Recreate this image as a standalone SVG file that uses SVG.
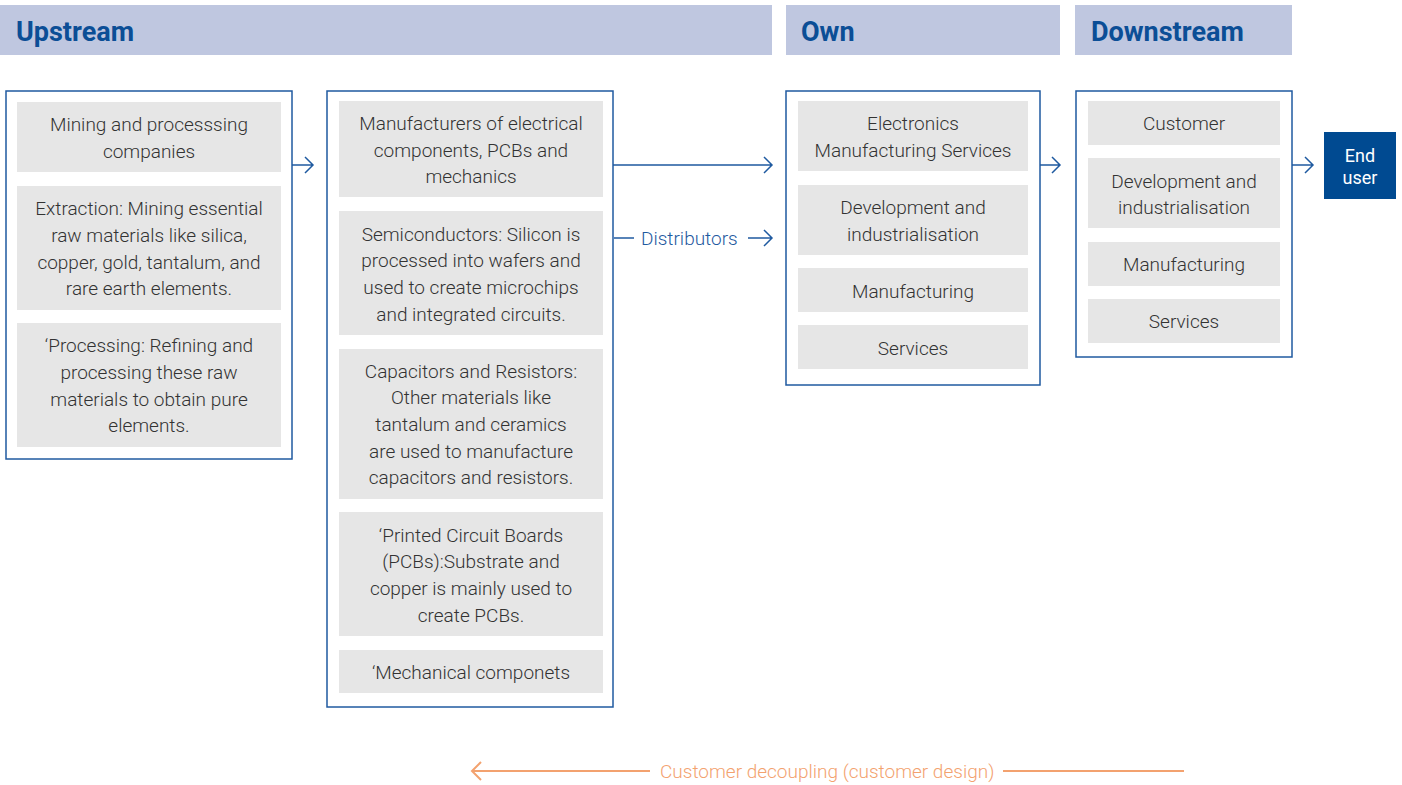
<svg xmlns="http://www.w3.org/2000/svg" width="1402" height="785" viewBox="0 0 1402 785">
  <defs>
    <style>
      .hdr { fill: #bfc7e0; }
      .hdr-t { font-family: Roboto, "Liberation Sans", sans-serif; font-weight: 700; font-size: 27px; fill: #0b4e96; }
      .frame { fill: #ffffff; stroke: #1f5aa0; stroke-width: 1.5; }
      .cell { fill: #e6e6e6; }
      .t { font-family: Roboto, "Liberation Sans", sans-serif; font-weight: 300; font-size: 19px; fill: #333333; text-anchor: middle; }
      .flow { fill: none; stroke: #1f5aa0; stroke-width: 1.5; }
      .flow-t { font-family: Roboto, "Liberation Sans", sans-serif; font-weight: 300; font-size: 19px; fill: #1f5aa0; }
      .dec { fill: none; stroke: #f3a26f; stroke-width: 2; }
      .dec-t { font-family: Roboto, "Liberation Sans", sans-serif; font-weight: 300; font-size: 19px; fill: #f3a26f; }
      .end { fill: #004a91; }
      .end-t { font-family: Roboto, "Liberation Sans", sans-serif; font-weight: 400; font-size: 18px; fill: #ffffff; text-anchor: middle; }
    </style>
  </defs>

  <!-- stage headers -->
  <g id="header-upstream">
    <rect class="hdr" x="0" y="5" width="772" height="50"/>
    <text class="hdr-t" x="16" y="41">Upstream</text>
  </g>
  <g id="header-own">
    <rect class="hdr" x="786" y="5" width="274" height="50"/>
    <text class="hdr-t" x="801" y="41">Own</text>
  </g>
  <g id="header-downstream">
    <rect class="hdr" x="1075" y="5" width="217" height="50"/>
    <text class="hdr-t" x="1091" y="41">Downstream</text>
  </g>

  <!-- raw materials -->
  <g id="mining">
    <rect class="frame" x="6" y="91" width="286" height="368"/>
    <rect class="cell" x="17" y="102" width="264" height="70"/>
    <text class="t"><tspan x="149" y="131">Mining and processsing</tspan><tspan x="149" y="158">companies</tspan></text>
    <rect class="cell" x="17" y="186" width="264" height="124"/>
    <text class="t"><tspan x="149" y="215">Extraction: Mining essential</tspan><tspan x="149" y="242">raw materials like silica,</tspan><tspan x="149" y="269">copper, gold, tantalum, and</tspan><tspan x="149" y="295">rare earth elements.</tspan></text>
    <rect class="cell" x="17" y="323" width="264" height="124"/>
    <text class="t"><tspan x="149" y="352">‘Processing: Refining and</tspan><tspan x="149" y="379">processing these raw</tspan><tspan x="149" y="406">materials to obtain pure</tspan><tspan x="149" y="432">elements.</tspan></text>
  </g>

  <!-- component manufacturers -->
  <g id="components">
    <rect class="frame" x="327" y="91" width="286" height="616"/>
    <rect class="cell" x="339" y="101" width="264" height="96"/>
    <text class="t"><tspan x="471" y="130">Manufacturers of electrical</tspan><tspan x="471" y="157">components, PCBs and</tspan><tspan x="471" y="183">mechanics</tspan></text>
    <rect class="cell" x="339" y="211" width="264" height="124"/>
    <text class="t"><tspan x="471" y="241">Semiconductors: Silicon is</tspan><tspan x="471" y="267">processed into wafers and</tspan><tspan x="471" y="294">used to create microchips</tspan><tspan x="471" y="321">and integrated circuits.</tspan></text>
    <rect class="cell" x="339" y="349" width="264" height="150"/>
    <text class="t"><tspan x="471" y="378">Capacitors and Resistors:</tspan><tspan x="471" y="404">Other materials like</tspan><tspan x="471" y="431">tantalum and ceramics</tspan><tspan x="471" y="458">are used to manufacture</tspan><tspan x="471" y="484">capacitors and resistors.</tspan></text>
    <rect class="cell" x="339" y="512" width="264" height="124"/>
    <text class="t"><tspan x="471" y="542">‘Printed Circuit Boards</tspan><tspan x="471" y="568">(PCBs):Substrate and</tspan><tspan x="471" y="595">copper is mainly used to</tspan><tspan x="471" y="622">create PCBs.</tspan></text>
    <rect class="cell" x="339" y="650" width="264" height="43"/>
    <text class="t" x="471" y="679">‘Mechanical componets</text>
  </g>

  <!-- own stage -->
  <g id="own">
    <rect class="frame" x="786" y="91" width="254" height="294"/>
    <rect class="cell" x="798" y="101" width="230" height="70"/>
    <text class="t"><tspan x="913" y="130">Electronics</tspan><tspan x="913" y="157">Manufacturing Services</tspan></text>
    <rect class="cell" x="798" y="185" width="230" height="70"/>
    <text class="t"><tspan x="913" y="214">Development and</tspan><tspan x="913" y="241">industrialisation</tspan></text>
    <rect class="cell" x="798" y="268" width="230" height="44"/>
    <text class="t" x="913" y="298">Manufacturing</text>
    <rect class="cell" x="798" y="325" width="230" height="44"/>
    <text class="t" x="913" y="355">Services</text>
  </g>

  <!-- downstream stage -->
  <g id="downstream">
    <rect class="frame" x="1076" y="91" width="216" height="266"/>
    <rect class="cell" x="1088" y="101" width="192" height="44"/>
    <text class="t" x="1184" y="130">Customer</text>
    <rect class="cell" x="1088" y="158" width="192" height="70"/>
    <text class="t"><tspan x="1184" y="188">Development and</tspan><tspan x="1184" y="214">industrialisation</tspan></text>
    <rect class="cell" x="1088" y="242" width="192" height="44"/>
    <text class="t" x="1184" y="271">Manufacturing</text>
    <rect class="cell" x="1088" y="299" width="192" height="44"/>
    <text class="t" x="1184" y="328">Services</text>
  </g>

  <g id="end-user">
    <rect class="end" x="1324" y="132" width="72" height="67"/>
    <text class="end-t"><tspan x="1360" y="162">End</tspan><tspan x="1360" y="184">user</tspan></text>
  </g>

  <!-- connectors -->
  <g id="connectors">
    <path class="flow" d="M292 165 H313 M305 157 L313 165 L305 173"/>
    <path class="flow" d="M613 165 H772 M764 157 L772 165 L764 173"/>
    <path class="flow" d="M614 238 H634"/>
    <text class="flow-t" x="641" y="245">Distributors</text>
    <path class="flow" d="M748 238 H772 M764 230 L772 238 L764 246"/>
    <path class="flow" d="M1040 165 H1060 M1052 157 L1060 165 L1052 173"/>
    <path class="flow" d="M1292 165 H1313 M1305 157 L1313 165 L1305 173"/>
    <path class="dec" d="M472 771 H650 M481 762 L472 771 L481 780"/>
    <text class="dec-t" x="660" y="778">Customer decoupling (customer design)</text>
    <path class="dec" d="M1003 771 H1184"/>
  </g>
</svg>
